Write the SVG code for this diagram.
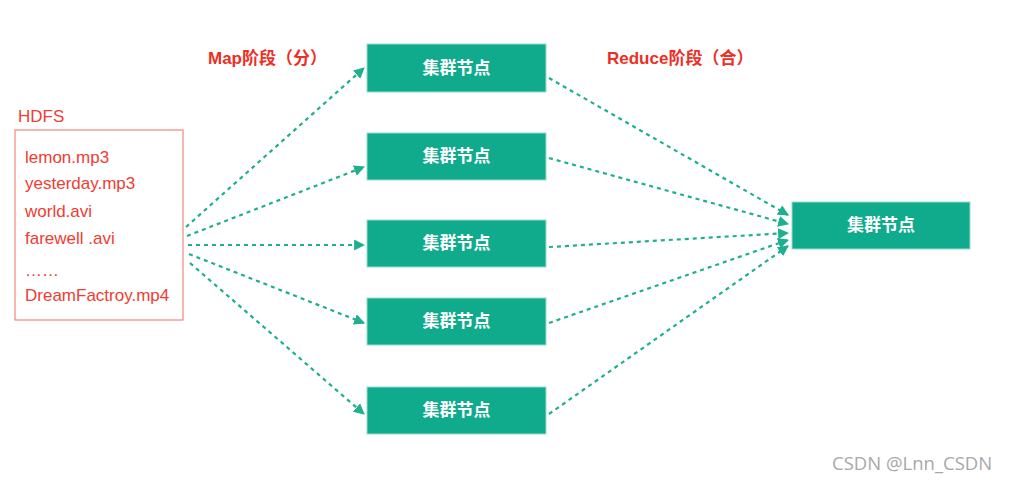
<svg xmlns="http://www.w3.org/2000/svg" width="1009" height="483" viewBox="0 0 1009 483">
<style>
.node{fill:#0fab8c;stroke:#9adccd;stroke-width:1}
.nt{font-family:"Noto Sans CJK SC","Liberation Sans",sans-serif;font-size:17px;font-weight:bold;fill:#fff;text-anchor:middle}
.ft{font-family:"Liberation Sans",Arial,sans-serif;font-size:17px;fill:#f03c32}
.lbl{font-family:"Liberation Sans","Noto Sans CJK SC",sans-serif;font-size:17px;font-weight:bold;fill:#ee2e24}
.c{fill:none;stroke:#1eaf8e;stroke-width:2.2;stroke-dasharray:4 4;marker-end:url(#ah)}
</style>
<defs>
<marker id="ah" viewBox="0 0 10 10" refX="9" refY="5" markerWidth="5" markerHeight="5" orient="auto" markerUnits="strokeWidth">
<path d="M0,0 L10,5 L0,10 z" fill="#1eaf8e"/>
</marker>
</defs>
<rect width="1009" height="483" fill="#fff"/>
<g id="hdfs">
<text class="ft" x="18" y="122" font-size="16.5">HDFS</text>
<rect x="15" y="130" width="168" height="190" fill="none" stroke="#f3857c" stroke-width="1.2"/>
<text class="ft" x="25" y="163">lemon.mp3</text>
<text class="ft" x="25" y="189">yesterday.mp3</text>
<text class="ft" x="25" y="217">world.avi</text>
<text class="ft" x="25" y="244">farewell .avi</text>
<text class="ft" x="25" y="276">……</text>
<text class="ft" x="25" y="301">DreamFactroy.mp4</text>
</g>
<g id="labels">
<text class="lbl" x="208" y="64">Map阶段（分）</text>
<text class="lbl" x="607" y="64">Reduce阶段（合）</text>
</g>
<g id="n1"><rect class="node" x="367" y="44" width="179" height="48"/><text class="nt" x="456.5" y="74">集群节点</text></g>
<g id="n2"><rect class="node" x="367" y="133" width="179" height="47"/><text class="nt" x="456.5" y="162">集群节点</text></g>
<g id="n3"><rect class="node" x="367" y="220" width="179" height="47"/><text class="nt" x="456.5" y="249">集群节点</text></g>
<g id="n4"><rect class="node" x="367" y="298" width="179" height="47"/><text class="nt" x="456.5" y="327">集群节点</text></g>
<g id="n5"><rect class="node" x="367" y="387" width="179" height="47"/><text class="nt" x="456.5" y="416">集群节点</text></g>
<g id="r"><rect class="node" x="792" y="202" width="178" height="47"/><text class="nt" x="881" y="231">集群节点</text></g>
<g id="connectors">
<line class="c" x1="186" y1="227" x2="364" y2="68"/>
<line class="c" x1="187" y1="236" x2="364" y2="167"/>
<line class="c" x1="188" y1="245" x2="364" y2="245"/>
<line class="c" x1="189" y1="254" x2="364" y2="323"/>
<line class="c" x1="190" y1="263" x2="364" y2="414"/>
<line class="c" x1="549" y1="78" x2="788" y2="215"/>
<line class="c" x1="549" y1="158" x2="788" y2="224"/>
<line class="c" x1="549" y1="247" x2="788" y2="233"/>
<line class="c" x1="549" y1="323" x2="788" y2="240"/>
<line class="c" x1="549" y1="414" x2="788" y2="246"/>
</g>
<text x="832" y="470" font-family="'Open Sans','Noto Sans',sans-serif" font-size="18.5" fill="#a8a8a8">CSDN @Lnn_CSDN</text>
</svg>
